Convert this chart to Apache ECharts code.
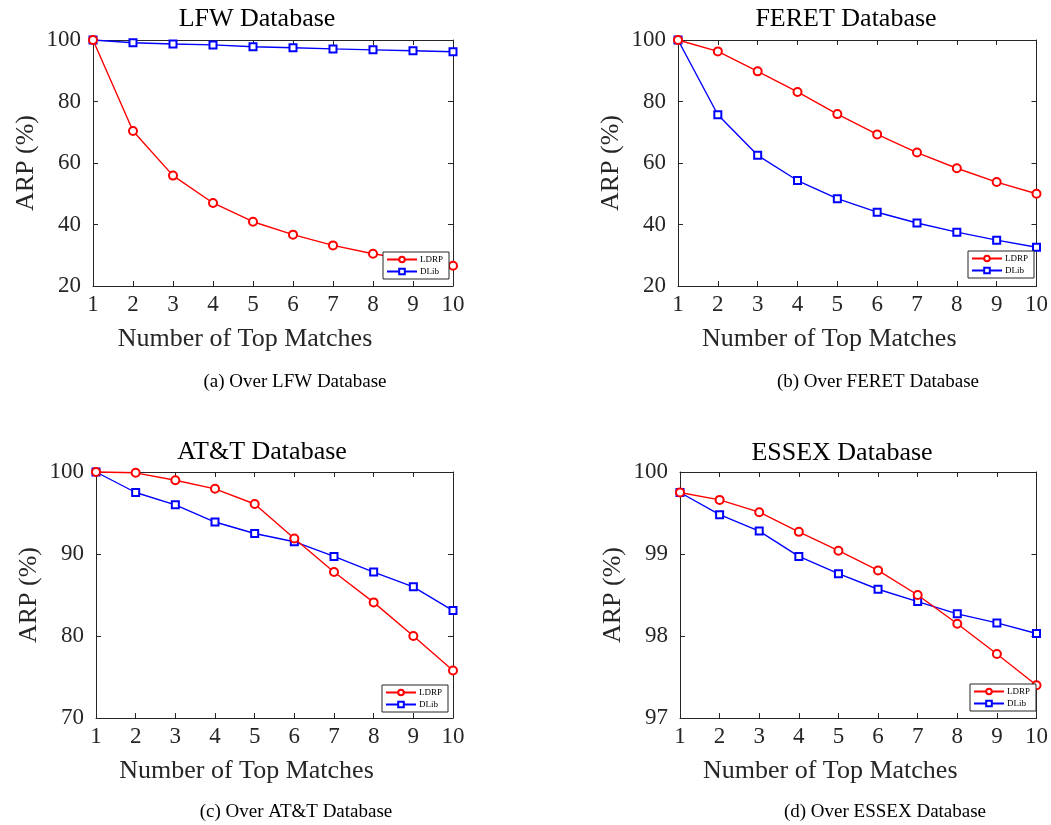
<!DOCTYPE html>
<html>
<head>
<meta charset="utf-8">
<script src="https://cdn.jsdelivr.net/npm/echarts@6/dist/echarts.min.js"></script>
<style>html,body{margin:0;padding:0;background:#fff}#c{width:1051px;height:825px}</style>
</head>
<body>
<div id="c"></div>
<script>
// ---- data ----
const topMatches = [1, 2, 3, 4, 5, 6, 7, 8, 9, 10];
const seriesNames = ['LDRP', 'DLib'];
const panelTitles = ['LFW Database', 'FERET Database', 'AT&T Database', 'ESSEX Database'];
const captions = ['(a) Over LFW Database', '(b) Over FERET Database', '(c) Over AT&T Database', '(d) Over ESSEX Database'];
const lfwLDRP = [100, 70.4, 55.9, 47.0, 40.9, 36.7, 33.2, 30.5, 28.4, 26.6];
const lfwDLib = [100, 99.1, 98.7, 98.4, 97.8, 97.5, 97.1, 96.8, 96.5, 96.2];
const feretLDRP = [100, 96.3, 89.8, 83.1, 75.9, 69.3, 63.4, 58.3, 53.8, 50.0];
const feretDLib = [100, 75.7, 62.5, 54.3, 48.4, 44.0, 40.5, 37.5, 34.9, 32.6];
const attLDRP = [100, 99.9, 99.0, 97.95, 96.1, 91.9, 87.8, 84.1, 80.0, 75.8];
const attDLib = [100, 97.5, 96.0, 93.9, 92.5, 91.5, 89.7, 87.8, 86.0, 83.1];
const essexLDRP = [99.75, 99.66, 99.51, 99.27, 99.04, 98.80, 98.50, 98.15, 97.78, 97.40];
const essexDLib = [99.75, 99.48, 99.28, 98.97, 98.76, 98.57, 98.42, 98.27, 98.16, 98.03];
const yMin = [20, 20, 70, 97];
const yMax = [100, 100, 100, 100];
const yStep = [20, 20, 10, 1];

// ---- layout ----
const FONT = '"Liberation Serif","DejaVu Serif",serif';
const grids = [
  {left: 93, top: 40, width: 360, height: 246},
  {left: 678, top: 40, width: 361, height: 246},
  {left: 96, top: 472, width: 357, height: 246},
  {left: 680, top: 472, width: 361, height: 246}
];
const legendPos = [
  {left: 383, top: 252}, {left: 968, top: 251}, {left: 382, top: 685}, {left: 970, top: 684}
];
const titleXY = [[257, 19], [846, 19], [262, 452], [842, 453]];
const captionXY = [[295, 382], [878, 382], [296, 812], [885, 812]];
const panelData = [[lfwLDRP, lfwDLib], [feretLDRP, feretDLib], [attLDRP, attDLib], [essexLDRP, essexDLib]];

const axisColor = '#262626';
const xAxes = [], yAxes = [], series = [], legends = [], graphics = [];
for (let i = 0; i < 4; i++) {
  const common = {
    gridIndex: i,
    axisLine: {show: true, onZero: false, lineStyle: {color: axisColor, width: 1}},
    axisTick: {show: true, inside: true, length: 5, lineStyle: {color: axisColor}},
    splitLine: {show: false}
  };
  xAxes.push(Object.assign({}, common, {
    type: 'value', position: 'bottom', min: 1, max: 10, interval: 1,
    axisLabel: {fontFamily: FONT, fontSize: 23, color: '#262626', margin: 7},
    name: 'Number of Top Matches', nameLocation: 'middle', nameGap: 40,
    nameTextStyle: {fontFamily: FONT, fontSize: 26, color: '#262626', padding: [0, 56, 0, 0]}
  }));
  yAxes.push(Object.assign({}, common, {
    type: 'value', position: 'left', min: yMin[i], max: yMax[i], interval: yStep[i],
    axisLabel: {fontFamily: FONT, fontSize: 23, color: '#262626', margin: 12},
    name: 'ARP (%)', nameLocation: 'middle', nameGap: 54, nameRotate: 90,
    nameTextStyle: {fontFamily: FONT, fontSize: 26, color: '#262626'}
  }));
}
for (let i = 0; i < 4; i++) {
  const common = {
    gridIndex: i,
    axisLine: {show: true, onZero: false, lineStyle: {color: axisColor, width: 1}},
    axisTick: {show: true, inside: true, length: 5, lineStyle: {color: axisColor}},
    axisLabel: {show: false},
    splitLine: {show: false}
  };
  xAxes.push(Object.assign({}, common, {type: 'value', position: 'top', min: 1, max: 10, interval: 1}));
  yAxes.push(Object.assign({}, common, {type: 'value', position: 'right', min: yMin[i], max: yMax[i], interval: yStep[i]}));
}
const colors = ['#ff0000', '#0000ff'];
const symbols = ['emptyCircle', 'emptyRect'];
const sizes = [8, 7];
for (let i = 0; i < 4; i++) {
  for (let s = 0; s < 2; s++) {
    series.push({
      type: 'line', name: seriesNames[s], xAxisIndex: i, yAxisIndex: i,
      data: topMatches.map((x, k) => [x, panelData[i][s][k]]),
      symbol: symbols[s], symbolSize: sizes[s], clip: false, showSymbol: true,
      color: colors[s],
      lineStyle: {color: colors[s], width: 1.4},
      itemStyle: {color: colors[s], borderWidth: 1.4},
      emphasis: {disabled: true}, animation: false, z: 3 + (1 - s)
    });
  }
  legends.push({
    left: legendPos[i].left, top: legendPos[i].top, orient: 'vertical',
    data: seriesNames, itemWidth: 30, itemHeight: 7, itemGap: 3,
    padding: [3, 6, 3, 3], backgroundColor: '#fff', borderColor: '#262626', borderWidth: 1,
    borderRadius: 0, textStyle: {fontFamily: FONT, fontSize: 9, color: '#000', padding: [0, 0, 0, -2]},
    selectedMode: false, z: 10
  });
  graphics.push({
    type: 'text', x: titleXY[i][0], y: titleXY[i][1],
    style: {text: panelTitles[i], font: '26px ' + FONT, fill: '#000', align: 'center', verticalAlign: 'middle'}
  });
  graphics.push({
    type: 'text', x: captionXY[i][0], y: captionXY[i][1],
    style: {text: captions[i], font: '19px ' + FONT, fill: '#000', align: 'center', verticalAlign: 'middle'}
  });
}

const chart = echarts.init(document.getElementById('c'), null, {renderer: 'canvas'});
chart.setOption({
  animation: false,
  backgroundColor: '#fff',
  grid: grids.map(g => Object.assign({containLabel: false}, g)),
  xAxis: xAxes,
  yAxis: yAxes,
  legend: legends,
  series: series,
  graphic: graphics
});
</script>
</body>
</html>
